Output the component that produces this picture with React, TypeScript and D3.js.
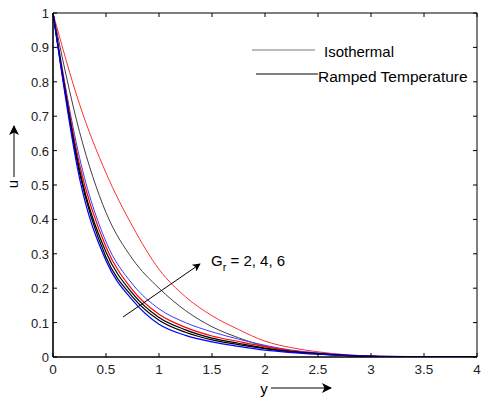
import React from 'react';
import * as d3 from 'd3';

// distance from the plate
const yGrid = [0, 0.25, 0.5, 0.75, 1, 1.25, 1.5, 1.75, 2, 2.25, 2.5, 2.75, 3, 3.5, 4];

// isothermal curves (Gr = 2, 4, 6)
const isoBlue = [1, 0.58, 0.335, 0.212, 0.14, 0.1, 0.073, 0.052, 0.034, 0.02, 0.012, 0.006, 0.003, 0.001, 0];
const isoBlack = [1, 0.655, 0.42, 0.285, 0.2, 0.135, 0.088, 0.056, 0.031, 0.018, 0.01, 0.005, 0.002, 0.0005, 0];
const isoRed = [1, 0.735, 0.535, 0.38, 0.255, 0.175, 0.12, 0.08, 0.046, 0.027, 0.015, 0.007, 0.003, 0.001, 0];

// ramped temperature curves
const rampBlue = [1, 0.52, 0.28, 0.165, 0.095, 0.063, 0.044, 0.031, 0.02, 0.013, 0.008, 0.004, 0.002, 0.0005, 0];
const rampBlack2 = [1, 0.535, 0.29, 0.175, 0.107, 0.072, 0.05, 0.036, 0.024, 0.015, 0.009, 0.005, 0.002, 0.0005, 0];
const rampBlack = [1, 0.545, 0.305, 0.185, 0.115, 0.079, 0.055, 0.04, 0.026, 0.016, 0.01, 0.005, 0.002, 0.0005, 0];
const rampRed = [1, 0.56, 0.32, 0.195, 0.124, 0.086, 0.061, 0.045, 0.03, 0.018, 0.01, 0.005, 0.002, 0.0005, 0];

const xTicks = [0, 0.5, 1, 1.5, 2, 2.5, 3, 3.5, 4];
const yTicks = [0, 0.1, 0.2, 0.3, 0.4, 0.5, 0.6, 0.7, 0.8, 0.9, 1];

const series = [
  { vals: isoRed, color: '#ff3030', w: 1 },
  { vals: isoBlack, color: '#404040', w: 1 },
  { vals: isoBlue, color: '#3a3aff', w: 1 },
  { vals: rampRed, color: '#ff0000', w: 1.2 },
  { vals: rampBlack, color: '#000000', w: 1.2 },
  { vals: rampBlack2, color: '#000000', w: 1.2 },
  { vals: rampBlue, color: '#0000ff', w: 1.2 },
];

const App = () => {
  const left = 53, right = 477, top = 13, bottom = 357;
  const x = d3.scaleLinear().domain([0, 4]).range([left, right]);
  const y = d3.scaleLinear().domain([0, 1]).range([bottom, top]);

  const line = d3.line<number>()
    .x((_, i) => x(yGrid[i]))
    .y(d => y(d))
    .curve(d3.curveMonotoneX);

  const font = 'Liberation Sans, Arial, sans-serif';

  return (
    <svg width={481} height={401} style={{ position: 'absolute', left: 0, top: 0, background: '#fff' }}>
      <defs>
        <marker id="ah" viewBox="0 0 10 10" refX="9" refY="5" markerWidth="10" markerHeight="8" orient="auto" markerUnits="userSpaceOnUse">
          <path d="M0,0 L10,5 L0,10 L2.5,5 z" fill="#000" />
        </marker>
        <marker id="ah2" viewBox="0 0 10 10" refX="9" refY="5" markerWidth="13" markerHeight="10" orient="auto" markerUnits="userSpaceOnUse">
          <path d="M0,0 L10,5 L0,10 L2.5,5 z" fill="#000" />
        </marker>
        <clipPath id="plot">
          <rect x={left} y={top - 1} width={right - left} height={bottom - top + 1} />
        </clipPath>
      </defs>

      <g clipPath="url(#plot)">
        {series.map((s, i) => (
          <path key={i} d={line(s.vals) || ''} fill="none" stroke={s.color} strokeWidth={s.w} />
        ))}
      </g>

      {/* box */}
      <line x1={left} x2={right} y1={top} y2={top} stroke="#000" strokeWidth={1} />
      <line x1={right} x2={right} y1={top} y2={bottom} stroke="#000" strokeWidth={1} />
      <line x1={left} x2={right} y1={bottom} y2={bottom} stroke="#000" strokeWidth={1.6} />
      <line x1={left} x2={left} y1={top} y2={bottom} stroke="#000" strokeWidth={1.6} />

      {/* x ticks */}
      {xTicks.map(t => (
        <g key={'x' + t}>
          <line x1={x(t)} x2={x(t)} y1={bottom} y2={bottom - 4} stroke="#000" strokeWidth={1} />
          <line x1={x(t)} x2={x(t)} y1={top} y2={top + 4} stroke="#000" strokeWidth={1} />
          <text x={x(t)} y={bottom + 17} textAnchor="middle" fontFamily={font} fontSize={13.5} fill="#222">{t}</text>
        </g>
      ))}

      {/* y ticks */}
      {yTicks.map(t => (
        <g key={'y' + t}>
          <line x1={left} x2={left + 4} y1={y(t)} y2={y(t)} stroke="#000" strokeWidth={1} />
          <line x1={right} x2={right - 4} y1={y(t)} y2={y(t)} stroke="#000" strokeWidth={1} />
          <text x={left - 4} y={y(t) + 5} textAnchor="end" fontFamily={font} fontSize={13} fill="#222">{t}</text>
        </g>
      ))}

      {/* axis labels with arrows */}
      <text x={264} y={394} textAnchor="middle" fontFamily={font} fontSize={15}>y</text>
      <line x1={271} x2={331} y1={388} y2={388} stroke="#000" strokeWidth={1} markerEnd="url(#ah2)" />
      <text transform="translate(18,184) rotate(-90)" textAnchor="middle" fontFamily={font} fontSize={15}>u</text>
      <line x1={14} x2={14} y1={177} y2={126} stroke="#000" strokeWidth={1} markerEnd="url(#ah2)" />

      {/* legend */}
      <line x1={252} x2={315} y1={50} y2={50} stroke="#777" strokeWidth={1} />
      <text x={324} y={57} fontFamily={font} fontSize={15}>Isothermal</text>
      <line x1={256} x2={318} y1={74} y2={74} stroke="#000" strokeWidth={1} />
      <text x={318} y={82} fontFamily={font} fontSize={15.5}>Ramped Temperature</text>

      {/* Gr annotation */}
      <line x1={123} x2={200} y1={317} y2={264} stroke="#000" strokeWidth={1} markerEnd="url(#ah)" />
      <text x={211} y={266} fontFamily={font} fontSize={15}>
        G<tspan dy={5} fontSize={11}>r</tspan><tspan dy={-5}> = 2, 4, 6</tspan>
      </text>
    </svg>
  );
};

export default App;
